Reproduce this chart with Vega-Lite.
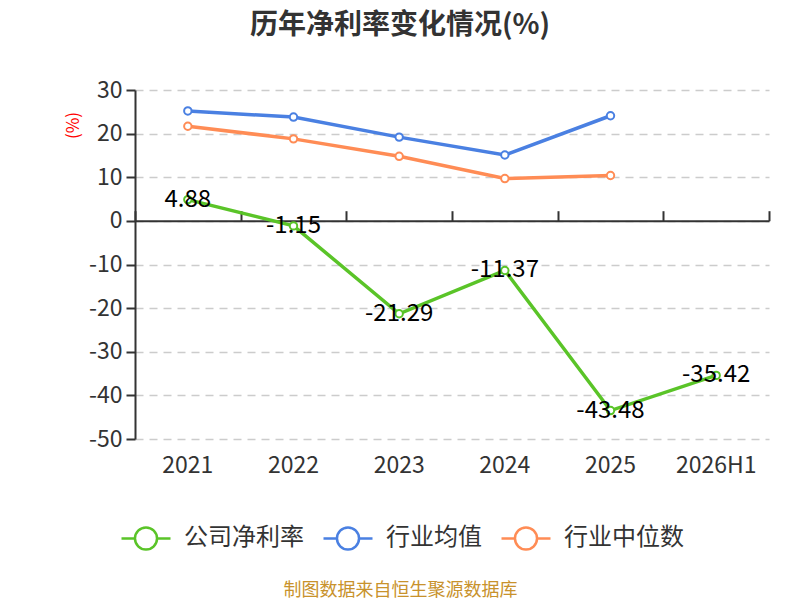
{
  "$schema": "https://vega.github.io/schema/vega-lite/v6.json",
  "autosize": "none",
  "width": 634,
  "height": 349,
  "padding": {"left": 135, "top": 90, "right": 31, "bottom": 161},
  "background": "white",
  "config": {
    "font": "Noto Sans CJK SC",
    "view": {"stroke": null}
  },
  "title": {
    "text": "历年净利率变化情况(%)",
    "fontSize": 28,
    "fontWeight": "bold",
    "color": "#333333",
    "anchor": "middle",
    "frame": "group",
    "dx": -52,
    "offset": 39
  },
  "data": {
    "values": [
      {"year": "2021", "series": "公司净利率", "value": 4.88},
      {"year": "2022", "series": "公司净利率", "value": -1.15},
      {"year": "2023", "series": "公司净利率", "value": -21.29},
      {"year": "2024", "series": "公司净利率", "value": -11.37},
      {"year": "2025", "series": "公司净利率", "value": -43.48},
      {"year": "2026H1", "series": "公司净利率", "value": -35.42},
      {"year": "2021", "series": "行业均值", "value": 25.2},
      {"year": "2022", "series": "行业均值", "value": 23.8},
      {"year": "2023", "series": "行业均值", "value": 19.2},
      {"year": "2024", "series": "行业均值", "value": 15.1},
      {"year": "2025", "series": "行业均值", "value": 24.1},
      {"year": "2021", "series": "行业中位数", "value": 21.7},
      {"year": "2022", "series": "行业中位数", "value": 18.8},
      {"year": "2023", "series": "行业中位数", "value": 14.8},
      {"year": "2024", "series": "行业中位数", "value": 9.7},
      {"year": "2025", "series": "行业中位数", "value": 10.4}
    ]
  },
  "resolve": {"axis": {"x": "independent"}},
  "layer": [
    {
      "mark": {"type": "line", "strokeWidth": 3.5, "point": {"filled": false, "fill": "white", "size": 55, "strokeWidth": 2, "opacity": 1}},
      "encoding": {
        "x": {
          "field": "year", "type": "nominal",
          "sort": ["2021", "2022", "2023", "2024", "2025", "2026H1"],
          "scale": {"type": "band", "paddingInner": 0, "paddingOuter": 0},
          "axis": {
            "domain": false, "ticks": false, "labelAngle": 0,
            "labelFontSize": 23, "labelColor": "#333333", "labelPadding": 15,
            "title": "制图数据来自恒生聚源数据库",
            "titleFontSize": 18, "titleFontWeight": "normal", "titleColor": "#c8922c",
            "titleX": 265, "titleY": 151, "titleBaseline": "middle", "titleAlign": "center"
          }
        },
        "y": {
          "field": "value", "type": "quantitative",
          "scale": {"domain": [-50, 30], "nice": false, "zero": false},
          "axis": {
            "values": [30, 20, 10, 0, -10, -20, -30, -40, -50],
            "labelExpr": "replace(datum.label, '\u2212', '-')",
            "labelFontSize": 23, "labelColor": "#333333", "labelPadding": 4,
            "tickSize": 9, "tickColor": "#333333", "tickWidth": 2,
            "domainColor": "#333333", "domainWidth": 2,
            "grid": true, "gridColor": "#cccccc", "gridDash": [8, 6], "gridWidth": 1.5,
            "title": "(%)", "titleColor": "#ff0000", "titleFontSize": 17, "titleFontWeight": "normal",
            "titleAngle": 270, "titleX": -62, "titleY": 35, "titleAlign": "center", "titleBaseline": "middle"
          }
        },
        "color": {
          "field": "series", "type": "nominal",
          "scale": {"domain": ["公司净利率", "行业均值", "行业中位数"], "range": ["#5ac428", "#4a80e2", "#ff8c55"]},
          "legend": {
            "orient": "none", "direction": "horizontal", "legendX": -15, "legendY": 422,
            "title": null,
            "symbolType": "M-1,0L-0.45,0M0.45,0A0.45,0.45,0,1,1,-0.45,0A0.45,0.45,0,1,1,0.45,0M0.45,0L1,0",
            "symbolSize": 2401, "symbolStrokeWidth": 2.5, "symbolFillColor": "white",
            "labelFontSize": 24, "labelColor": "#333333", "labelOffset": 12, "columnPadding": 14
          }
        }
      }
    },
    {
      "transform": [{"filter": "datum.series === '公司净利率'"}],
      "mark": {"type": "text", "fontSize": 24, "color": "#000000", "align": "center", "baseline": "middle"},
      "encoding": {
        "x": {
          "field": "year", "type": "nominal",
          "sort": ["2021", "2022", "2023", "2024", "2025", "2026H1"],
          "axis": {
            "offset": -130.7, "labels": false, "domain": true, "domainColor": "#333333", "domainWidth": 2,
            "ticks": true, "tickBand": "extent", "tickSize": 10, "tickColor": "#333333", "tickWidth": 2,
            "title": null, "grid": false
          }
        },
        "y": {"field": "value", "type": "quantitative"},
        "text": {"field": "value", "type": "nominal"}
      }
    }
  ]
}
